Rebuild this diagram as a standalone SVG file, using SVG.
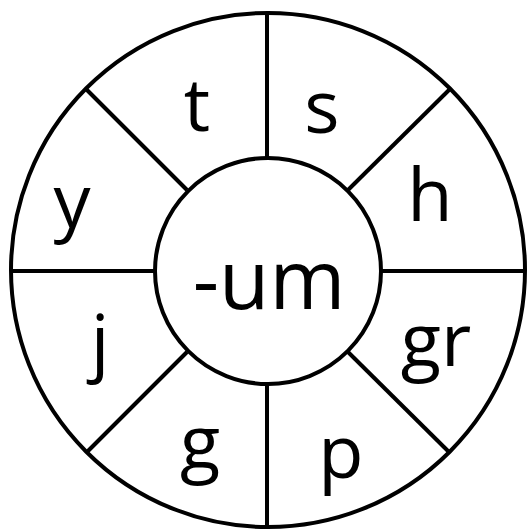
<svg xmlns="http://www.w3.org/2000/svg" width="528" height="530" viewBox="0 0 528 530">
<style>
.ring{fill:none;stroke:#000;stroke-width:4}
.ln{stroke:#000;stroke-width:4;stroke-linecap:butt}
.lbl{font-family:"Open Sans","Liberation Sans",sans-serif;font-size:74px;fill:#000;text-anchor:middle}
.ctr{font-size:82px}
</style>
<rect width="528" height="530" fill="#fff"/>
<g id="outer-ring"><circle class="ring" cx="268" cy="270" r="257"/></g>
<g id="connectors">
<line class="ln" x1="267" y1="13" x2="267" y2="158"/>
<line class="ln" x1="267" y1="384" x2="267" y2="527"/>
<line class="ln" x1="13" y1="271" x2="155" y2="271"/>
<line class="ln" x1="381" y1="271" x2="525" y2="271"/>
<line class="ln" x1="86" y1="89" x2="187" y2="190"/>
<line class="ln" x1="450" y1="89" x2="348" y2="190"/>
<line class="ln" x1="86" y1="453" x2="187" y2="352"/>
<line class="ln" x1="450" y1="453" x2="348" y2="352"/>
</g>
<g id="center"><circle cx="268" cy="271" r="113" fill="#fff" stroke="#000" stroke-width="4"/><text class="lbl ctr" x="269" y="309">-um</text></g>
<g id="seg-t"><text class="lbl" x="197" y="131">t</text></g>
<g id="seg-s"><text class="lbl" x="322" y="133">s</text></g>
<g id="seg-h"><text class="lbl" x="430" y="221">h</text></g>
<g id="seg-gr"><text class="lbl" x="436" y="366">gr</text></g>
<g id="seg-p"><text class="lbl" x="341" y="478">p</text></g>
<g id="seg-g"><text class="lbl" x="200" y="468">g</text></g>
<g id="seg-j"><text class="lbl" x="100" y="367">j</text></g>
<g id="seg-y"><text class="lbl" x="72" y="227">y</text></g>
</svg>
